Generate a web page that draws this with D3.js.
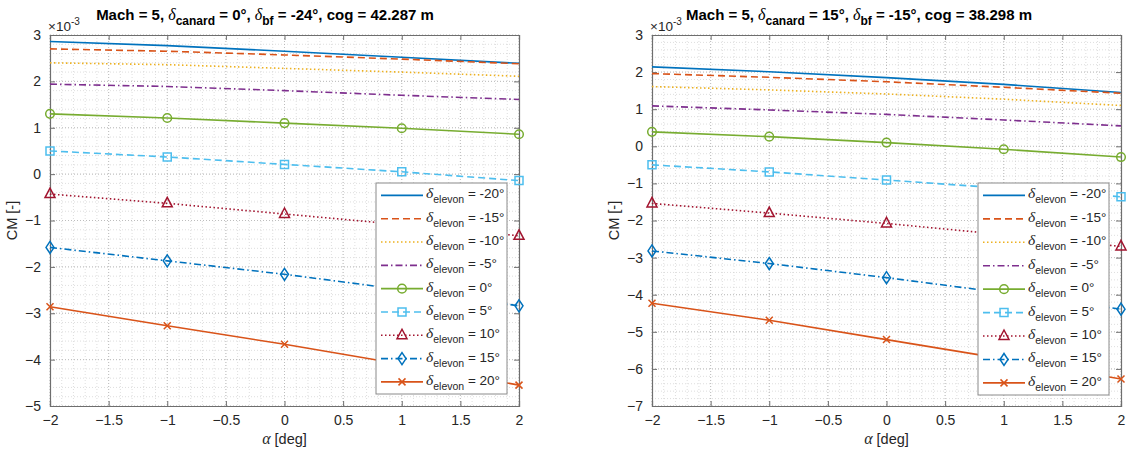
<!DOCTYPE html>
<html>
<head>
<meta charset="utf-8">
<script src="https://cdn.jsdelivr.net/npm/d3@7"></script>
<style>
  html, body { margin: 0; padding: 0; background: #fff; }
  svg { display: block; font-family: "Liberation Sans", Arial, Helvetica, sans-serif; }
</style>
</head>
<body>
<svg id="chart" width="1128" height="456"></svg>
<script>
// ---------------- DATA ----------------
const alpha = [-2, -1, 0, 1, 2];
const elevonDeflections = [-20, -15, -10, -5, 0, 5, 10, 15, 20];
const xTicks = [-2, -1.5, -1, -0.5, 0, 0.5, 1, 1.5, 2];
const yTicksLeft = [-5, -4, -3, -2, -1, 0, 1, 2, 3];
const yTicksRight = [-7, -6, -5, -4, -3, -2, -1, 0, 1, 2, 3];

// CM values (x 1e-3), panel 1: delta_canard = 0, delta_bf = -24
const cm1_m20 = [2.86, 2.77, 2.65, 2.52, 2.39];
const cm1_m15 = [2.70, 2.65, 2.57, 2.48, 2.38];
const cm1_m10 = [2.40, 2.36, 2.28, 2.20, 2.11];
const cm1_m5  = [1.94, 1.89, 1.80, 1.70, 1.61];
const cm1_0   = [1.30, 1.21, 1.10, 0.99, 0.86];
const cm1_5   = [0.50, 0.37, 0.21, 0.05, -0.14];
const cm1_10  = [-0.43, -0.63, -0.86, -1.09, -1.33];
const cm1_15  = [-1.58, -1.87, -2.16, -2.49, -2.84];
const cm1_20  = [-2.86, -3.27, -3.67, -4.10, -4.55];

// panel 2: delta_canard = 15, delta_bf = -15
const cm2_m20 = [2.14, 2.01, 1.85, 1.67, 1.45];
const cm2_m15 = [1.96, 1.86, 1.74, 1.59, 1.43];
const cm2_m10 = [1.61, 1.52, 1.41, 1.27, 1.10];
const cm2_m5  = [1.09, 0.98, 0.86, 0.71, 0.55];
const cm2_0   = [0.39, 0.26, 0.10, -0.08, -0.29];
const cm2_5   = [-0.50, -0.69, -0.91, -1.13, -1.36];
const cm2_10  = [-1.54, -1.80, -2.08, -2.38, -2.70];
const cm2_15  = [-2.82, -3.16, -3.54, -3.95, -4.39];
const cm2_20  = [-4.23, -4.69, -5.21, -5.73, -6.27];

const panel1Series = [cm1_m20, cm1_m15, cm1_m10, cm1_m5, cm1_0, cm1_5, cm1_10, cm1_15, cm1_20];
const panel2Series = [cm2_m20, cm2_m15, cm2_m10, cm2_m5, cm2_0, cm2_5, cm2_10, cm2_15, cm2_20];

// ---------------- STYLES ----------------
const colors = ["#0072BD", "#D95319", "#EDB120", "#7E2F8E", "#77AC30", "#4DBEEE", "#A2142F", "#0072BD", "#D95319"];
const dashes = [null, "7,4", "1.5,2.5", "7,3,1.5,3", null, "7,4", "1.5,2.5", "7,3,1.5,3", null];
const markers = [null, null, null, null, "circle", "square", "triangle", "diamond", "x"];

const svg = d3.select("#chart");

function markerPath(type) {
  switch (type) {
    case "circle": return d3.symbol().type(d3.symbolCircle).size(58)();
    case "square": return "M-4,-4L4,-4L4,4L-4,4Z";
    case "triangle": return "M0,-6L5,3.5L-5,3.5Z";
    case "diamond": return "M0,-6L4,0L0,6L-4,0Z";
    case "x": return "M-3.5,-3.5L3.5,3.5M-3.5,3.5L3.5,-3.5";
  }
  return null;
}

function drawPanel(o) {
  const g = svg.append("g");
  const x = d3.scaleLinear().domain([-2, 2]).range([o.x0, o.x1]);
  const y = d3.scaleLinear().domain(o.yDomain).range([o.y1, o.y0]);

  // minor grid
  const xMinor = d3.range(-2, 2.0001, 0.1).map(v => +v.toFixed(2));
  const yMinor = d3.range(o.yDomain[0], o.yDomain[1] + 0.0001, 0.2).map(v => +v.toFixed(2));
  g.append("g").selectAll("line").data(xMinor).join("line")
    .attr("x1", d => x(d)).attr("x2", d => x(d)).attr("y1", o.y0).attr("y2", o.y1)
    .attr("stroke", "#c8c8c8").attr("stroke-width", 0.6).attr("stroke-dasharray", "1,2");
  g.append("g").selectAll("line").data(yMinor).join("line")
    .attr("x1", o.x0).attr("x2", o.x1).attr("y1", d => y(d)).attr("y2", d => y(d))
    .attr("stroke", "#c8c8c8").attr("stroke-width", 0.6).attr("stroke-dasharray", "1,2");
  // major grid
  g.append("g").selectAll("line").data(xTicks).join("line")
    .attr("x1", d => x(d)).attr("x2", d => x(d)).attr("y1", o.y0).attr("y2", o.y1)
    .attr("stroke", "#b5b5b5").attr("stroke-width", 0.8).attr("stroke-dasharray", "1,2");
  g.append("g").selectAll("line").data(o.yTicks).join("line")
    .attr("x1", o.x0).attr("x2", o.x1).attr("y1", d => y(d)).attr("y2", d => y(d))
    .attr("stroke", "#b5b5b5").attr("stroke-width", 0.8).attr("stroke-dasharray", "1,2");

  // axes (ticks inside, box)
  const axColor = "#6e6e6e";
  const bottom = g.append("g").attr("transform", `translate(0,${o.y1})`)
    .call(d3.axisBottom(x).tickValues(xTicks).tickSize(-5).tickPadding(9).tickFormat(d3.format("")));
  const top = g.append("g").attr("transform", `translate(0,${o.y0})`)
    .call(d3.axisTop(x).tickValues(xTicks).tickSize(-5).tickFormat(""));
  const left = g.append("g").attr("transform", `translate(${o.x0},0)`)
    .call(d3.axisLeft(y).tickValues(o.yTicks).tickSize(-5).tickPadding(9).tickFormat(d3.format("")));
  const right = g.append("g").attr("transform", `translate(${o.x1},0)`)
    .call(d3.axisRight(y).tickValues(o.yTicks).tickSize(-5).tickFormat(""));
  [bottom, top, left, right].forEach(a => {
    a.select(".domain").attr("stroke", axColor).attr("stroke-width", 1.2);
    a.selectAll(".tick line").attr("stroke", axColor).attr("stroke-width", 1);
    a.selectAll(".tick text").attr("fill", "#262626").attr("font-size", 14)
      .attr("font-family", "Liberation Sans, Arial, sans-serif");
  });
  bottom.selectAll(".tick text").attr("dy", "0.71em");

  // exponent label
  const ex = g.append("text").attr("x", o.x0 - 2).attr("y", o.y0 - 4)
    .attr("fill", "#262626").attr("font-size", 13.5);
  ex.append("tspan").text("×10");
  ex.append("tspan").attr("font-size", 10).attr("dy", -6).text("-3");

  // data lines
  const line = d3.line().x((d, i) => x(alpha[i])).y(d => y(d));
  o.series.forEach((s, k) => {
    g.append("path").datum(s).attr("d", line)
      .attr("fill", "none").attr("stroke", colors[k]).attr("stroke-width", 1.6)
      .attr("stroke-dasharray", dashes[k]);
    if (markers[k]) {
      g.append("g").selectAll("path").data(s).join("path")
        .attr("transform", (d, i) => `translate(${x(alpha[i])},${y(d)})`)
        .attr("d", markerPath(markers[k]))
        .attr("fill", "none").attr("stroke", colors[k]).attr("stroke-width", 1.5);
    }
  });

  // title
  const t = g.append("text").attr("x", o.titleX).attr("y", 20)
    .attr("text-anchor", "middle").attr("font-weight", "bold").attr("font-size", 15).attr("fill", "#000");
  t.append("tspan").text("Mach = 5, ");
  t.append("tspan").attr("font-family", "Liberation Serif, serif").attr("font-style", "italic").attr("font-weight", "normal").attr("font-size", 16).text("δ");
  t.append("tspan").attr("font-size", 12).attr("dy", 5).text("canard");
  t.append("tspan").attr("dy", -5).text(` = ${o.canard}°, `);
  t.append("tspan").attr("font-family", "Liberation Serif, serif").attr("font-style", "italic").attr("font-weight", "normal").attr("font-size", 16).text("δ");
  t.append("tspan").attr("font-size", 12).attr("dy", 5).text("bf");
  t.append("tspan").attr("dy", -5).text(` = ${o.bf}°, cog = ${o.cog} m`);

  // axis labels
  g.append("text").attr("x", (o.x0 + o.x1) / 2).attr("y", 444).attr("text-anchor", "middle")
    .attr("font-size", 14.5).attr("fill", "#262626")
    .call(tx => {
      tx.append("tspan").attr("font-family", "Liberation Serif, serif").attr("font-style", "italic").attr("font-size", 16).text("α");
      tx.append("tspan").text(" [deg]");
    });
  g.append("text").attr("transform", `translate(${o.x0 - 33},${(o.y0 + o.y1) / 2}) rotate(-90)`)
    .attr("text-anchor", "middle").attr("font-size", 14.5).attr("fill", "#262626").text("CM [-]");

  // legend
  const L = o.legend;
  const lg = g.append("g");
  lg.append("rect").attr("x", L.x).attr("y", L.y).attr("width", L.w).attr("height", L.h)
    .attr("fill", "#fff").attr("stroke", "#8a8a8a").attr("stroke-width", 1);
  const rowH = (L.h - 24.5) / 8;
  elevonDeflections.forEach((dv, k) => {
    const cy = L.y + 12.4 + k * rowH;
    lg.append("line").attr("x1", L.x + 5).attr("x2", L.x + 47).attr("y1", cy).attr("y2", cy)
      .attr("stroke", colors[k]).attr("stroke-width", 1.6).attr("stroke-dasharray", dashes[k]);
    if (markers[k]) {
      lg.append("path").attr("transform", `translate(${L.x + 26},${cy})`).attr("d", markerPath(markers[k]))
        .attr("fill", "none").attr("stroke", colors[k]).attr("stroke-width", 1.5);
    }
    const tx = lg.append("text").attr("x", L.x + 50).attr("y", cy + 3).attr("font-size", 13.5).attr("fill", "#262626");
    tx.append("tspan").attr("font-family", "Liberation Serif, serif").attr("font-style", "italic").attr("font-size", 15.5).text("δ");
    tx.append("tspan").attr("font-size", 10.5).attr("dy", 5).text("elevon");
    tx.append("tspan").attr("dy", -5).text(` = ${dv}°`);
  });
}

drawPanel({
  x0: 50, x1: 519, y0: 35, y1: 406, yDomain: [-5, 3], yTicks: yTicksLeft,
  series: panel1Series, titleX: 265, canard: 0, bf: -24, cog: "42.287",
  legend: { x: 376, y: 183, w: 131, h: 211 }
});
drawPanel({
  x0: 652, x1: 1121, y0: 35, y1: 406, yDomain: [-7, 3], yTicks: yTicksRight,
  series: panel2Series, titleX: 859, canard: 15, bf: -15, cog: "38.298",
  legend: { x: 978, y: 183, w: 131, h: 212 }
});
</script>
</body>
</html>
